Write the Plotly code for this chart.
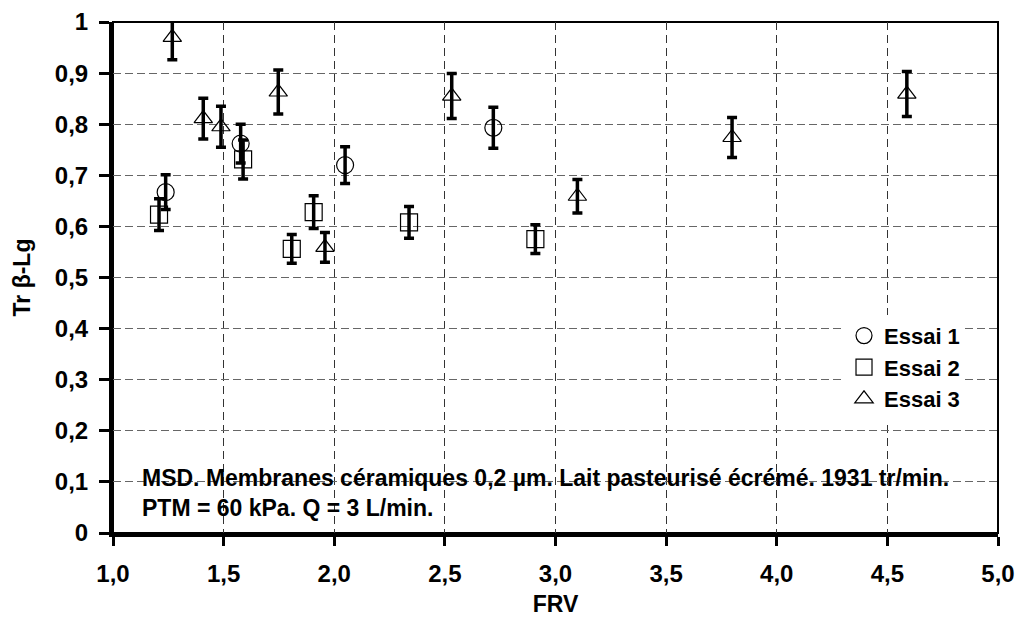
import plotly.graph_objects as go

# ---- data ----
essai1_frv = [1.238, 1.577, 2.049, 2.719]
essai1_tr = [0.667, 0.762, 0.720, 0.793]
essai1_err = [0.034, 0.038, 0.036, 0.040]

essai2_frv = [1.208, 1.588, 1.808, 1.907, 2.338, 2.909]
essai2_tr = [0.623, 0.731, 0.556, 0.628, 0.608, 0.575]
essai2_err = [0.031, 0.038, 0.028, 0.032, 0.031, 0.028]

essai3_frv = [1.268, 1.408, 1.488, 1.747, 1.958, 2.531, 3.099, 3.798, 4.588]
essai3_tr = [0.970, 0.811, 0.795, 0.863, 0.559, 0.855, 0.659, 0.774, 0.859]
essai3_err = [0.044, 0.040, 0.040, 0.043, 0.029, 0.044, 0.033, 0.039, 0.044]

x_tick_vals = [1.0, 1.5, 2.0, 2.5, 3.0, 3.5, 4.0, 4.5, 5.0]
x_tick_text = ["1,0", "1,5", "2,0", "2,5", "3,0", "3,5", "4,0", "4,5", "5,0"]
y_tick_vals = [0, 0.1, 0.2, 0.3, 0.4, 0.5, 0.6, 0.7, 0.8, 0.9, 1.0]
y_tick_text = ["0", "0,1", "0,2", "0,3", "0,4", "0,5", "0,6", "0,7", "0,8", "0,9", "1"]

series_names = ["Essai 1", "Essai 2", "Essai 3"]
note_lines = ["MSD. Membranes céramiques 0,2 µm. Lait pasteurisé écrémé. 1931 tr/min.",
              "PTM = 60 kPa. Q = 3 L/min."]

FONT = "Liberation Sans, Arial, sans-serif"

fig = go.Figure()

def add_series(xs, ys, errs, name, symbol, size):
    fig.add_trace(go.Scatter(
        x=xs, y=ys, mode="markers", name=name, legendgroup=name,
        marker=dict(symbol=symbol, size=size, color="black",
                    line=dict(color="black", width=1.2)),
        error_y=dict(type="data", array=errs, visible=True,
                     color="black", thickness=3.5, width=5),
        cliponaxis=False,
    ))

add_series(essai1_frv, essai1_tr, essai1_err, series_names[0], "circle-open", 17)
add_series(essai2_frv, essai2_tr, essai2_err, series_names[1], "square-open", 17)
add_series(essai3_frv, essai3_tr, essai3_err, series_names[2], "triangle-up-open", 16)

fig.update_layout(
    width=1022, height=617,
    margin=dict(l=113, r=24, t=22, b=84, autoexpand=False),
    paper_bgcolor="white", plot_bgcolor="white",
    font=dict(family=FONT, color="black"),
    showlegend=True,
    legend=dict(x=0.826, y=0.427, xanchor="left", yanchor="top",
                bgcolor="white", borderwidth=0,
                font=dict(family=FONT, size=22, color="black", weight="bold"),
                tracegroupgap=0, itemwidth=30),
    xaxis=dict(
        range=[1.0, 5.0], tickvals=x_tick_vals, ticktext=x_tick_text,
        showline=True, linecolor="black", linewidth=4,
        ticks="outside", ticklen=9, tickwidth=2.5, tickcolor="black",
        showgrid=True, gridcolor="#333333", gridwidth=1, griddash="8px,5px",
        zeroline=False, automargin=False,
        tickfont=dict(family=FONT, size=24, color="black", weight="bold"),
        ticklabelstandoff=7,
        title=dict(text="<b>FRV</b>", font=dict(family=FONT, size=23, color="black"),
                   standoff=13),
    ),
    yaxis=dict(
        range=[0, 1.0], tickvals=y_tick_vals, ticktext=y_tick_text,
        showline=True, linecolor="black", linewidth=4,
        ticks="outside", ticklen=10, tickwidth=2.5, tickcolor="black",
        showgrid=True, gridcolor="#666666", gridwidth=1.3, griddash="8px,4px",
        zeroline=False, automargin=False,
        tickfont=dict(family=FONT, size=24, color="black", weight="bold"),
        ticklabelstandoff=6,
        title=dict(text="<b>Tr β-Lg</b>", font=dict(family=FONT, size=23, color="black"),
                   standoff=19),
    ),
    shapes=[dict(type="rect", xref="paper", yref="paper", x0=0, x1=1, y0=0, y1=1,
                 line=dict(color="black", width=2), layer="below")],
    annotations=[dict(
        xref="paper", yref="paper", x=0.0305, y=0.079,
        xanchor="left", yanchor="middle", align="left",
        text="<br>".join("<b>" + s + "</b>" for s in note_lines),
        showarrow=False,
        font=dict(family=FONT, size=23, color="black"),
    )],
)

fig.write_html("out.html", config={"displayModeBar": False},
               post_script="document.body.style.margin='0';")
